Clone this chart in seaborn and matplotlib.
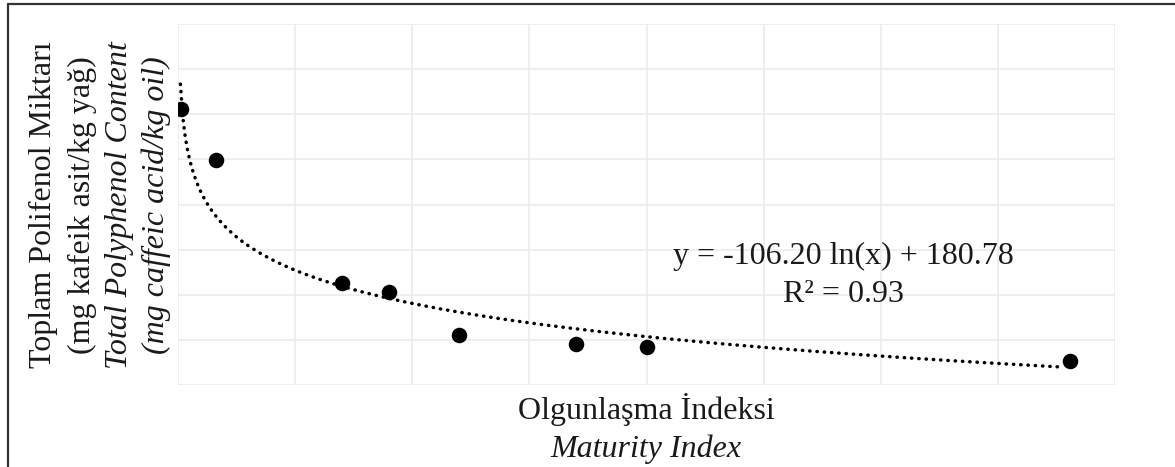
import numpy as np
import pandas as pd
import matplotlib
matplotlib.use("Agg")
import matplotlib.pyplot as plt
from matplotlib.lines import Line2D
import seaborn as sns

# Data
maturity_index = [0.013, 0.162, 0.70, 0.90, 1.20, 1.70, 2.00, 3.806]
polyphenol = [612, 499, 225, 205, 111, 91, 84, 54]
fit_a = -106.20
fit_b = 180.78
r_squared = 0.93
x_ticks = [0, 0.5, 1, 1.5, 2, 2.5, 3, 3.5, 4]
y_ticks = [0, 100, 200, 300, 400, 500, 600, 700, 800]

df = pd.DataFrame({"x": maturity_index, "y": polyphenol})
xt = np.linspace(0.0103, max(maturity_index) - 0.035, 400)
trend = pd.DataFrame({"x": xt, "y": fit_a * np.log(xt) + fit_b})

sns.set_theme(style="whitegrid")
plt.rcParams["font.family"] = ["Liberation Serif", "DejaVu Serif"]

W, H = 1175, 467
fig = plt.figure(figsize=(W / 100, H / 100), dpi=100)
ax = fig.add_axes([178 / W, 1 - 385 / H, (1115 - 178) / W, (385 - 24) / H])

sns.lineplot(data=trend, x="x", y="y", ax=ax, color="black", lw=2.5,
             dashes=False, zorder=3)
line = ax.lines[-1]
line.set_dashes((0.1, 2.0))
line.set_dash_capstyle("round")
sns.scatterplot(data=df, x="x", y="y", ax=ax, color="black", s=125,
                edgecolor="black", linewidth=0, zorder=4)

ax.set_xlim(0, 4)
ax.set_ylim(0, 800)
ax.set_xticks(x_ticks)
ax.set_yticks(y_ticks)
ax.set_xticklabels([])
ax.set_yticklabels([])
ax.tick_params(length=0)
ax.grid(True, color="#e9e9e9", lw=1.1)
for s in ax.spines.values():
    s.set_visible(False)
ax.set_xlabel("")
ax.set_ylabel("")

fs = 23
tc = "#1a1a1a"
ax.text(2.84, 284, "y = -106.20 ln(x) + 180.78", ha="center", va="center",
        fontsize=fs, color=tc)
ax.text(2.84, 200, "R² = 0.93", ha="center", va="center",
        fontsize=fs, color=tc)

# y-label (four lines)
ylab = [("Toplam Polifenol Miktarı", "normal", 43),
        ("(mg kafeik asit/kg yağ)", "normal", 82),
        ("Total Polyphenol Content", "italic", 119),
        ("(mg caffeic acid/kg oil)", "italic", 156)]
for txt, st, xp in ylab:
    fig.text(xp / W, 1 - 205 / H, txt, rotation=90, ha="center", va="center",
             fontsize=fs, style=st, color=tc)

# x-label (two lines)
fig.text(646 / W, 1 - 410 / H, "Olgunlaşma İndeksi", ha="center", va="center",
         fontsize=fs, color=tc)
fig.text(646 / W, 1 - 449 / H, "Maturity Index", ha="center", va="center",
         fontsize=fs, style="italic", color=tc)

# outer frame (top and left edges)
fig.add_artist(Line2D([8 / W, 1], [1 - 4 / H, 1 - 4 / H], color="#333333",
                      lw=1.6, transform=fig.transFigure))
fig.add_artist(Line2D([8 / W, 8 / W], [0, 1 - 4 / H], color="#333333",
                      lw=1.6, transform=fig.transFigure))

fig.savefig("out.png", dpi=100, facecolor="white")
